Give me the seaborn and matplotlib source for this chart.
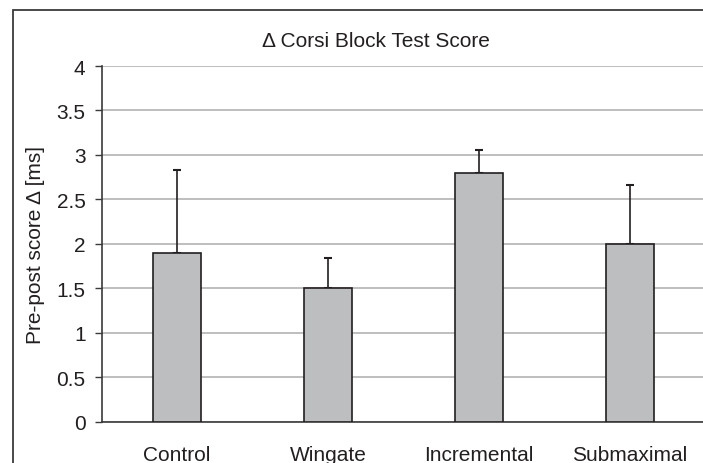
import numpy as np
import pandas as pd
import matplotlib
matplotlib.use('Agg')
import matplotlib.pyplot as plt
import seaborn as sns
from matplotlib.patches import Rectangle

groups = ['Control', 'Wingate', 'Incremental', 'Submaximal']
delta_score = [1.90, 1.50, 2.80, 2.00]
sd_upper = [0.93, 0.34, 0.25, 0.66]
y_ticks = [0, 0.5, 1, 1.5, 2, 2.5, 3, 3.5, 4]

df = pd.DataFrame({'Group': groups, 'Delta': delta_score, 'SD': sd_upper})

sns.set_theme(style='white')
plt.rcParams['font.family'] = ['Liberation Sans', 'DejaVu Sans']

fig = plt.figure(figsize=(7.03, 4.64), dpi=100)
ax = fig.add_axes([0.1444, 0.0894, 0.8592, 0.7662])

sns.barplot(data=df, x='Group', y='Delta', color='#bcbec0', edgecolor='#231f20',
            linewidth=1.2, width=0.32, errorbar=None, saturation=1, ax=ax, zorder=3)
ax.errorbar(np.arange(len(groups)), df['Delta'],
            yerr=[np.zeros(len(groups)), df['SD']], fmt='none',
            ecolor='#231f20', elinewidth=1.2, capsize=3, capthick=1.5, zorder=2)

ax.set_xlim(-0.5, 3.5)
ax.set_ylim(0, 4)
ax.set_yticks(y_ticks)
ax.set_yticklabels([f'{t:g}' for t in y_ticks])
ax.yaxis.grid(True, color='#b3b3b3', linewidth=1.2)
ax.set_axisbelow(True)
for s in ['top', 'right']:
    ax.spines[s].set_visible(False)
ax.spines['left'].set_color('#3a3a3a')
ax.spines['bottom'].set_color('#3a3a3a')
ax.spines['left'].set_linewidth(1.2)
ax.spines['bottom'].set_linewidth(1.2)
ax.tick_params(axis='y', left=True, length=5, width=1.0, color='#3a3a3a',
               labelsize=15, labelcolor='#231f20', pad=6.5)
ax.tick_params(axis='x', bottom=False, labelsize=15, labelcolor='#231f20', pad=11)
ax.set_xlabel('')
ax.set_ylabel('Pre-post score Δ [ms]', fontsize=15, color='#231f20', labelpad=8)

fig.text(0.3727, 0.899, 'Δ Corsi Block Test Score', ha='left', va='baseline',
         fontsize=15, color='#231f20')
fig.patches.append(Rectangle((0.0185, -0.1), 1.2, 1.076, transform=fig.transFigure,
                             fill=False, edgecolor='#3a3a3a', linewidth=1.3))

plt.savefig('out.png', dpi=100)
